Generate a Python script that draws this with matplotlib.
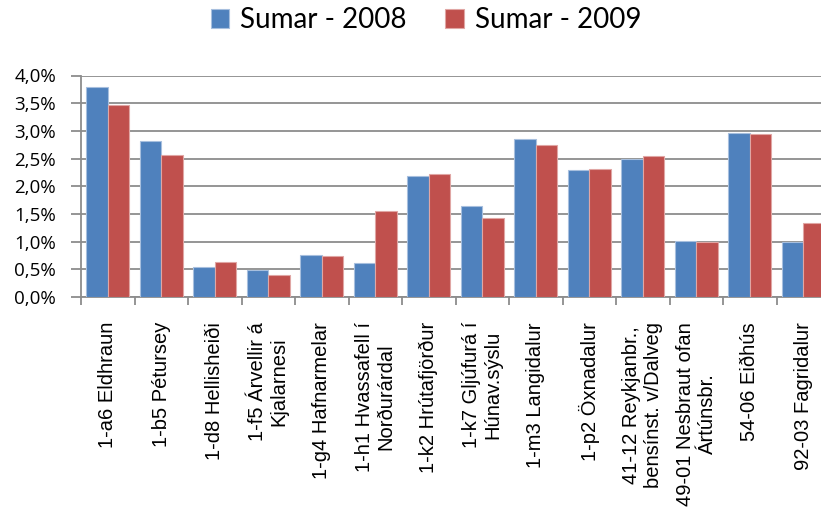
import numpy as np
import matplotlib.pyplot as plt
from matplotlib.ticker import FuncFormatter, FixedLocator

categories = [
    "1-a6 Eldhraun",
    "1-b5 Pétursey",
    "1-d8 Hellisheiði",
    "1-f5 Árvellir á\nKjalarnesi",
    "1-g4 Hafnarmelar",
    "1-h1 Hvassafell í\nNorðurárdal",
    "1-k2 Hrútafjörður",
    "1-k7 Gljúfurá í\nHúnav.sýslu",
    "1-m3 Langidalur",
    "1-p2 Öxnadalur",
    "41-12 Reykjanbr.,\nbensínst. v/Dalveg",
    "49-01 Nesbraut ofan\nÁrtúnsbr.",
    "54-06 Eiðhús",
    "92-03 Fagridalur",
]
sumar_2008 = [3.79, 2.81, 0.54, 0.49, 0.76, 0.61, 2.18, 1.64, 2.86, 2.30, 2.50, 1.02, 2.96, 0.99]
sumar_2009 = [3.47, 2.57, 0.64, 0.40, 0.74, 1.56, 2.22, 1.43, 2.75, 2.32, 2.54, 0.99, 2.95, 1.34]
series_labels = ["Sumar - 2008", "Sumar - 2009"]
y_ticks = [0, 0.5, 1.0, 1.5, 2.0, 2.5, 3.0, 3.5, 4.0]

blue = "#4F81BD"
red = "#C0504D"

fig = plt.figure(figsize=(8.21, 5.09), dpi=100)
# axes runs a little past the right edge, as in the original
ax = fig.add_axes([81 / 821, 212 / 509, 749 / 821, 221.5 / 509])

x = np.arange(len(categories))
w = 0.4
ax.bar(x - w / 2, sumar_2008, w, color=blue, edgecolor="#A7BFDE", linewidth=0.8,
       label=series_labels[0], zorder=3)
ax.bar(x + w / 2, sumar_2009, w, color=red, edgecolor="#E0A6A4", linewidth=0.8,
       label=series_labels[1], zorder=3)

ax.set_xlim(-0.5, len(categories) - 0.5)
ax.set_ylim(0, 4.0)
ax.set_yticks(y_ticks)
ax.yaxis.set_major_formatter(FuncFormatter(lambda v, p: f"{v:.1f}%".replace(".", ",")))
ax.yaxis.grid(True, color="#8C8C8C", linewidth=1.3, zorder=0)

ax.set_xticks(x)
ax.set_xticklabels(categories, rotation=90, ha="center", va="top",
                   multialignment="center", fontsize=14.5, family="Liberation Sans")
ax.xaxis.set_minor_locator(FixedLocator(np.arange(-0.5, len(categories), 1.0)))
ax.tick_params(axis="x", which="major", length=0, pad=18)
ax.tick_params(axis="x", which="minor", length=6, width=1.3, color="#8C8C8C")
ax.tick_params(axis="y", length=7, width=1.3, color="#8C8C8C", pad=11,
               labelsize=13.5, labelfontfamily="Open Sans")

for side in ["top", "right"]:
    ax.spines[side].set_visible(False)
for side in ["left", "bottom"]:
    ax.spines[side].set_color("#8C8C8C")
    ax.spines[side].set_linewidth(1.3)

fig.legend(loc="center", bbox_to_anchor=(426 / 821, 1 - 20 / 509), ncol=2,
           frameon=False, prop={"family": "Lato", "size": 20},
           handlelength=0.65, handleheight=0.65, handletextpad=0.4,
           columnspacing=1.4)

fig.savefig("out.png", dpi=100)
